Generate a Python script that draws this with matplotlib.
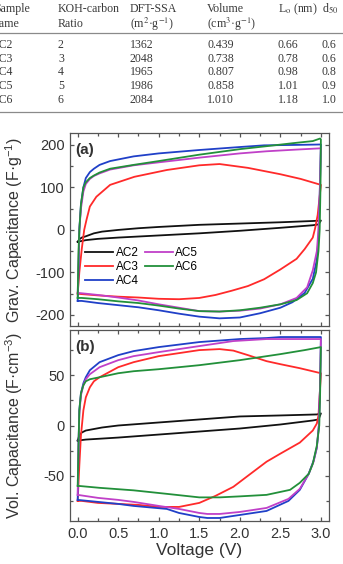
import matplotlib
matplotlib.use("Agg")
import matplotlib.pyplot as plt
from matplotlib.ticker import MultipleLocator

plt.rcParams["font.family"] = ["Liberation Sans", "DejaVu Sans"]
plt.rcParams["mathtext.fontset"] = "custom"
plt.rcParams["mathtext.rm"] = "Liberation Sans"
plt.rcParams["mathtext.it"] = "Liberation Sans:italic"
plt.rcParams["axes.unicode_minus"] = False

# ---- table (cropped at both sides in the original) ----
table_head1 = ["Sample", "KOH-carbon", "DFT-SSA", "Volume", "L$_{\\rm o}$ (nm)", "d$_{50}$"]
table_head2 = ["name", "Ratio", "(m$^2$·g$^{-1}$)", "(cm$^3$·g$^{-1}$)", "", ""]
samples = ["AC2", "AC3", "AC4", "AC5", "AC6"]
koh_ratio = ["2", "3", "4", "5", "6"]
dft_ssa = ["1362", "2048", "1965", "1986", "2084"]
volume = ["0.439", "0.738", "0.807", "0.858", "1.010"]
l0_nm = ["0.66", "0.78", "0.98", "1.01", "1.18"]
d50_nm = ["0.6", "0.6", "0.8", "0.9", "1.0"]

# ---- CV curves, gravimetric (a) ----
ac2_grav_v = [0.0, 0.02, 0.05, 0.1, 0.2, 0.3, 0.5, 0.75, 1.0, 1.5, 2.0, 2.5, 2.9, 3.0,
              2.97, 2.9, 2.5, 2.0, 1.5, 1.0, 0.5, 0.25, 0.1, 0.0]
ac2_grav_c = [-28, -22, -18, -15, -8, -4, 0, 4, 7, 12, 15, 18, 21, 22,
              13, 11, 5, -2, -8, -13, -18, -21, -24, -28]
ac3_grav_v = [0.0, 0.02, 0.05, 0.08, 0.11, 0.15, 0.23, 0.4, 0.7, 1.1, 1.5, 1.75, 2.1, 2.5, 2.75, 3.0,
              2.98, 2.96, 2.93, 2.9, 2.8, 2.7, 2.5, 2.3, 2.1, 1.9, 1.7, 1.5, 1.25, 1.0, 0.75, 0.5, 0.25, 0.05, 0.0]
ac3_grav_c = [-150, -100, -45, 0, 25, 55, 78, 106, 125, 141, 152, 155, 146, 131, 120, 106,
              70, 35, 5, -18, -45, -68, -93, -116, -132, -143, -153, -160, -163, -162, -159, -157, -154, -151, -150]
ac4_grav_v = [0.0, 0.01, 0.02, 0.04, 0.07, 0.1, 0.15, 0.2, 0.27, 0.4, 0.69, 1.0, 1.5, 2.0, 2.3, 2.7, 3.0,
              2.985, 2.97, 2.95, 2.9, 2.8, 2.65, 2.5, 2.25, 2.0, 1.75, 1.5, 1.25, 1.0, 0.75, 0.5, 0.25, 0.05, 0.0]
ac4_grav_c = [-167, -100, 0, 60, 100, 122, 136, 144, 153, 162, 173, 180, 188, 195, 199, 200, 201,
              80, -20, -70, -115, -148, -170, -183, -196, -206, -208, -204, -197, -189, -182, -177, -172, -167, -167]
ac5_grav_v = [0.0, 0.01, 0.02, 0.04, 0.07, 0.1, 0.15, 0.2, 0.27, 0.4, 0.69, 1.0, 1.5, 2.0, 2.33, 2.7, 3.0,
              2.985, 2.97, 2.95, 2.9, 2.83, 2.7, 2.5, 2.25, 2.0, 1.75, 1.5, 1.25, 1.0, 0.75, 0.5, 0.25, 0.05, 0.0]
ac5_grav_c = [-148, -80, 0, 50, 90, 108, 120, 127, 133, 142, 152, 159, 170, 180, 185, 189, 192,
              80, 0, -50, -95, -135, -160, -175, -185, -190, -192, -191, -183, -175, -166, -159, -153, -149, -148]
ac6_grav_v = [0.0, 0.005, 0.01, 0.02, 0.04, 0.07, 0.1, 0.15, 0.2, 0.27, 0.4, 0.69, 1.0, 1.5, 2.0, 2.33, 2.7, 2.9, 2.99, 3.0,
              2.995, 2.985, 2.97, 2.94, 2.9, 2.83, 2.7, 2.5, 2.25, 2.0, 1.75, 1.5, 1.25, 1.0, 0.75, 0.5, 0.25, 0.05, 0.0]
ac6_grav_c = [-160, -100, -50, 0, 60, 100, 112, 122, 128, 135, 144, 153, 162, 177, 190, 197, 205, 209, 215, 213,
              100, 0, -50, -100, -125, -149, -165, -175, -183, -189, -192, -191, -185, -178, -172, -168, -163, -160, -160]

# ---- CV curves, volumetric (b) ----
ac2_vol_v = [0.0, 0.02, 0.05, 0.1, 0.3, 0.5, 1.0, 1.5, 2.0, 2.5, 2.95, 3.0,
             2.97, 2.9, 2.5, 2.0, 1.5, 1.0, 0.5, 0.1, 0.0]
ac2_vol_c = [-15, -10, -7, -5, -2, 0, 3, 6, 9, 10, 11, 12,
             6, 5, 1, -3, -6, -9, -12, -14, -15]
ac3_vol_v = [0.0, 0.02, 0.04, 0.07, 0.1, 0.15, 0.2, 0.27, 0.5, 0.69, 1.0, 1.5, 1.75, 1.92, 2.1, 2.33, 2.5, 2.74, 3.0,
             2.985, 2.97, 2.95, 2.9, 2.74, 2.5, 2.33, 2.1, 1.92, 1.7, 1.5, 1.25, 1.0, 0.75, 0.5, 0.25, 0.05, 0.0]
ac3_vol_c = [-75, -40, -10, 15, 28, 38, 44, 48, 58, 63, 69, 75, 76, 74.5, 70, 64, 61, 57, 52,
             30, 10, 2, -5, -17, -28, -36, -50, -61, -70, -77, -81, -81, -79, -78, -77, -75, -75]
ac4_vol_v = [0.0, 0.01, 0.02, 0.04, 0.07, 0.1, 0.15, 0.27, 0.5, 0.69, 1.0, 1.5, 2.0, 2.33, 2.5, 3.0,
             2.99, 2.975, 2.95, 2.91, 2.85, 2.74, 2.6, 2.33, 2.0, 1.75, 1.6, 1.5, 1.25, 1.1, 0.69, 0.5, 0.25, 0.0]
ac4_vol_c = [-74, -20, 15, 32, 42, 48, 55, 63, 70, 74, 78, 83, 86, 87, 88, 88,
             40, 0, -22, -35, -48, -64, -75, -85, -89, -92, -92, -91, -87, -83, -80, -78, -76, -74]
ac5_vol_v = [0.0, 0.01, 0.02, 0.04, 0.07, 0.1, 0.15, 0.27, 0.5, 0.69, 1.0, 1.5, 1.92, 2.33, 2.5, 3.0,
             2.99, 2.975, 2.95, 2.91, 2.85, 2.74, 2.6, 2.33, 2.0, 1.75, 1.6, 1.5, 1.25, 1.0, 0.69, 0.5, 0.25, 0.0]
ac5_vol_c = [-69, -20, 12, 30, 40, 46, 51, 58, 65, 69, 73, 79, 84, 86, 86, 86,
             40, 0, -22, -36, -48, -63, -73, -82, -86, -88, -88, -87, -83, -80, -76, -74, -72, -69]
ac6_vol_v = [0.0, 0.01, 0.02, 0.04, 0.07, 0.1, 0.15, 0.27, 0.5, 0.69, 1.0, 1.5, 2.0, 2.5, 2.8, 3.0,
             2.99, 2.98, 2.95, 2.9, 2.85, 2.74, 2.62, 2.33, 2.0, 1.75, 1.5, 1.1, 0.69, 0.27, 0.0]
ac6_vol_c = [-60, -20, 15, 32, 40, 44, 46, 48, 52, 54, 56, 60, 65, 71, 75, 78,
             30, 0, -20, -38, -48, -57, -64, -69, -70.5, -71.5, -71.5, -68, -64.5, -62, -60]

colors = ["#111111", "#ff2a2a", "#2040c8", "#c040c8", "#22903a"]

fig = plt.figure(figsize=(3.43, 5.64), dpi=100)
W, H = 343.0, 564.0


def px(x, y):
    return x / W, 1 - y / H


# table text
serif = dict(family=["Liberation Serif", "DejaVu Serif"], fontsize=8.6, color="#3a3a3a",
             va="center", ha="left", math_fontfamily="stix")
col_x = [-6, 58, 130, 207, 278, 322]
for x, h1, h2 in zip(col_x, table_head1, table_head2):
    fig.text(*px(x, 9), h1, **serif)
    fig.text(*px(x, 24), h2, **serif)
rows = list(zip(samples, koh_ratio, dft_ssa, volume, l0_nm, d50_nm))
for i, row in enumerate(rows):
    y = 45 + i * 13.7
    for j, (x, val) in enumerate(zip(col_x, row)):
        fig.text(*px(x - 3 if j == 0 else x, y), val, **serif)
for y in [32.5, 111.5]:
    fig.add_artist(plt.Line2D([0, 1], [1 - y / H] * 2, color="#8a8a8a", lw=0.9))

ax_a = fig.add_axes([70 / W, 1 - 326 / H, 259 / W, 193 / H])
ax_b = fig.add_axes([70 / W, 1 - 521 / H, 259 / W, 191 / H])

grav = [(ac2_grav_v, ac2_grav_c), (ac3_grav_v, ac3_grav_c), (ac4_grav_v, ac4_grav_c),
        (ac5_grav_v, ac5_grav_c), (ac6_grav_v, ac6_grav_c)]
vol = [(ac2_vol_v, ac2_vol_c), (ac3_vol_v, ac3_vol_c), (ac4_vol_v, ac4_vol_c),
       (ac5_vol_v, ac5_vol_c), (ac6_vol_v, ac6_vol_c)]

for (v, c), col, name in zip(grav, colors, samples):
    ax_a.plot(v, c, color=col, lw=1.3, label=name)
for (v, c), col in zip(vol, colors):
    ax_b.plot(v, c, color=col, lw=1.3)

ax_a.set_ylim(-226, 228)
ax_b.set_ylim(-95, 95)
ax_a.yaxis.set_major_locator(MultipleLocator(100))
ax_a.yaxis.set_minor_locator(MultipleLocator(50))
ax_b.yaxis.set_major_locator(MultipleLocator(50))
ax_b.yaxis.set_minor_locator(MultipleLocator(25))

for ax in (ax_a, ax_b):
    ax.set_xlim(-0.095, 3.1)
    ax.xaxis.set_major_locator(MultipleLocator(0.5))
    ax.xaxis.set_minor_locator(MultipleLocator(0.25))
    ax.tick_params(which="both", direction="in", top=True, right=True, colors="#555555",
                   labelcolor="#333333", labelsize=10.5, pad=4)
    ax.tick_params(which="major", length=3, width=0.9)
    ax.tick_params(which="minor", length=2, width=0.9)
    for s in ax.spines.values():
        s.set_color("#555555")
        s.set_linewidth(0.9)

ax_a.tick_params(labelbottom=False)
ax_b.set_xticks([0, 0.5, 1.0, 1.5, 2.0, 2.5, 3.0])
ax_b.set_xticklabels(["0.0", "0.5", "1.0", "1.5", "2.0", "2.5", "3.0"])

ax_a.set_ylabel("Grav. Capacitance (F·g$^{-1}$)", fontsize=11.5, color="#333333")
ax_b.set_ylabel("Vol. Capacitance (F·cm$^{-3}$)", fontsize=11.5, color="#333333")
ax_a.yaxis.set_label_coords(-0.175, 0.5)
ax_b.yaxis.set_label_coords(-0.175, 0.5)
ax_b.set_xlabel("Voltage (V)", fontsize=12.5, color="#333333", labelpad=2)

ax_a.text(0.02, 0.91, "(a)", transform=ax_a.transAxes, fontsize=11, fontweight="bold",
          color="#333333", va="center")
ax_b.text(0.02, 0.91, "(b)", transform=ax_b.transAxes, fontsize=11, fontweight="bold",
          color="#333333", va="center")

ax_a.legend(ncol=2, loc="center left", bbox_to_anchor=(0.058, 0.305), frameon=False,
            fontsize=8.5, handlelength=2.4, handletextpad=0.2, columnspacing=0.5,
            labelspacing=0.2, borderpad=0, borderaxespad=0)

fig.savefig("out.png", dpi=100)
